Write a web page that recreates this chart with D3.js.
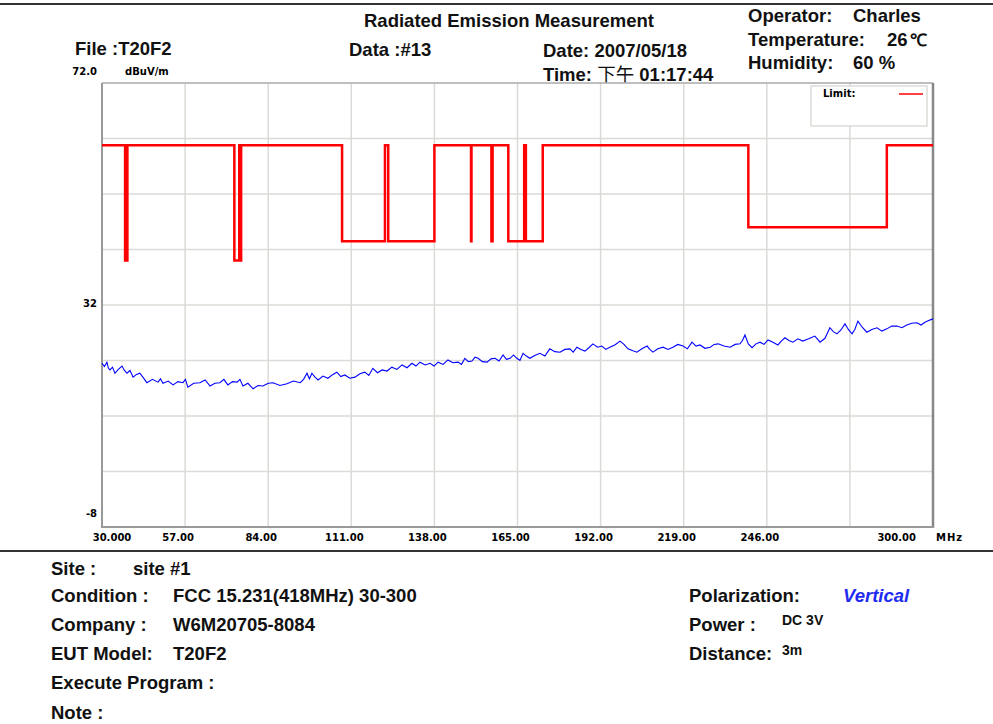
<!DOCTYPE html>
<html lang="en">
<head>
    <meta charset="utf-8">
    <title>Radiated Emission Measurement</title>
    <script type="text/javascript" src="https://d3js.org/d3.v7.min.js"></script>
    <style type="text/css">
        body { margin: 0; overflow: hidden; background: #fff; }
        svg { display: block; }
        .hdr { font-family: "Liberation Sans", Arial, sans-serif; font-weight: bold; fill: #111; }
        .tick { font-family: "DejaVu Sans", sans-serif; font-weight: bold; font-size: 10px; fill: #000; }
    </style>
</head>
<body>
    <script type="text/javascript">
        // axis values
        var freqTicks = [30, 57, 84, 111, 138, 165, 192, 219, 246, 300];
        var freqTickLabels = ["30.000", "57.00", "84.00", "111.00", "138.00", "165.00", "192.00", "219.00", "246.00", "300.00"];
        var freqGrid = [57, 84, 111, 138, 165, 192, 219, 246, 273];
        var levelGrid = [62, 52, 42, 32, 22, 12, 2];
        var levelTickLabels = [[72, "72.0"], [32, "32"], [-8, "-8"]];

        // limit line: general level plus restricted bands (lower limit inside)
        var limitHigh = 60.8;
        var restrictedBands = [[37.5, 38.25], [73, 74.6], [74.8, 75.2], [108, 121.94], [123, 138],
            [149.9, 150.05], [156.52475, 156.52525], [156.7, 156.9], [162.0125, 167.17], [167.72, 173.2], [240, 285]];
        var bandLimits = [[30, 88, 40], [88, 216, 43.5], [216, 960, 46]];

        var traceFreqs = [30.0, 30.8, 31.6, 32.1, 32.6, 33.4, 34.2, 35.3, 36.5, 37.3, 38.1, 39.1, 40.1, 41.2, 42.3, 43.4, 44.6, 46.4, 48.2, 49.0,
            49.8, 51.5, 53.1, 54.7, 56.3, 57.1, 57.9, 59.8, 61.8, 63.5, 65.1, 66.7, 68.3, 69.6, 70.9, 72.4, 73.9, 74.8, 75.8, 77.4,
            79.1, 80.7, 82.3, 84.0, 85.6, 87.8, 90.1, 92.2, 94.4, 95.5, 96.6, 97.4, 98.2, 99.2, 100.2, 101.8, 103.4, 104.8, 106.3, 107.6,
            108.9, 110.5, 112.2, 113.8, 115.4, 116.7, 118.0, 119.5, 121.0, 122.6, 124.2, 125.8, 127.5, 129.1, 130.7, 132.0, 133.3, 135.0, 136.6, 137.9,
            139.2, 140.8, 142.4, 144.0, 145.7, 146.8, 147.9, 149.0, 150.2, 151.2, 152.2, 153.6, 155.1, 156.4, 157.7, 159.0, 160.3, 161.4, 162.6, 163.7,
            164.8, 165.8, 166.8, 167.9, 169.0, 170.6, 172.3, 173.9, 175.5, 177.1, 178.8, 180.4, 182.0, 183.1, 184.3, 185.6, 186.9, 188.2, 189.5, 191.0,
            192.4, 193.7, 195.0, 196.6, 198.3, 199.6, 200.9, 202.3, 203.8, 205.4, 207.1, 208.0, 209.0, 210.6, 212.3, 213.9, 215.5, 217.1, 218.8, 220.2,
            221.7, 223.0, 224.3, 225.9, 227.6, 228.9, 230.2, 232.1, 234.1, 235.7, 237.3, 238.1, 238.9, 240.0, 241.2, 242.5, 243.8, 245.1, 246.4, 248.0,
            249.6, 250.7, 251.9, 253.2, 254.5, 256.1, 257.7, 259.6, 261.6, 262.4, 263.3, 264.9, 266.5, 267.6, 268.8, 270.1, 271.4, 272.5, 273.7, 274.6,
            275.6, 277.0, 278.5, 280.1, 281.8, 283.4, 285.0, 286.6, 288.3, 289.9, 291.5, 293.1, 294.8, 296.1, 297.4, 298.6, 300.0];
        var traceLevels = [21.5, 20.9, 21.7, 20.6, 20.3, 20.8, 19.7, 20.4, 21.0, 20.2, 19.7, 20.2, 19.0, 19.5, 19.7, 18.9, 18.0, 18.6, 18.1, 18.7,
            17.9, 18.3, 17.6, 18.2, 18.0, 18.6, 17.2, 17.9, 18.0, 18.5, 17.4, 17.9, 18.0, 18.6, 17.6, 18.2, 18.1, 18.6, 17.4, 17.9,
            16.9, 17.5, 17.4, 17.9, 18.0, 17.5, 17.8, 18.3, 18.0, 18.6, 19.7, 18.7, 19.7, 19.0, 18.5, 19.2, 18.8, 19.4, 19.9, 19.1,
            19.4, 18.8, 19.0, 19.6, 19.9, 19.3, 20.6, 19.8, 20.3, 20.1, 20.8, 20.4, 21.2, 20.7, 21.5, 21.0, 21.7, 21.2, 21.5, 21.0,
            21.7, 21.3, 22.1, 21.6, 21.7, 21.3, 22.4, 21.8, 21.9, 22.6, 22.4, 21.8, 21.7, 22.3, 22.4, 21.9, 23.0, 22.2, 22.4, 23.0,
            22.4, 22.0, 23.3, 22.8, 22.4, 22.9, 23.3, 22.8, 24.1, 23.6, 23.5, 24.0, 24.1, 23.5, 24.4, 24.0, 23.7, 24.3, 25.0, 24.4,
            24.6, 24.0, 24.4, 24.8, 25.5, 24.9, 24.1, 23.8, 23.5, 24.1, 24.6, 24.0, 23.5, 24.1, 24.4, 24.0, 24.4, 24.9, 24.6, 24.1,
            25.3, 24.6, 24.8, 24.2, 24.4, 24.9, 25.0, 24.6, 24.4, 24.9, 25.0, 25.6, 26.6, 25.0, 24.3, 25.0, 25.3, 24.9, 25.7, 25.3,
            24.8, 25.5, 26.1, 25.6, 25.3, 25.9, 25.5, 25.9, 26.4, 25.9, 25.3, 26.0, 27.9, 27.2, 26.8, 27.5, 28.6, 27.6, 26.8, 27.6,
            29.1, 28.0, 27.1, 27.6, 27.9, 27.3, 27.7, 28.2, 28.2, 27.9, 28.4, 28.7, 28.8, 28.4, 28.9, 29.2, 29.5];

        var width = 993, height = 724;
        var svg = d3.select("body").append("svg")
            .attr("width", width)
            .attr("height", height);

        var x = d3.scaleLinear().domain([30, 300]).range([102, 933]);
        var y = d3.scaleLinear().domain([-8, 72]).range([527, 83]);

        // page rules
        svg.append("line").attr("x1", 0).attr("x2", width).attr("y1", 4).attr("y2", 4)
            .attr("stroke", "#333").attr("stroke-width", 2);
        svg.append("line").attr("x1", 0).attr("x2", width).attr("y1", 551).attr("y2", 551)
            .attr("stroke", "#333").attr("stroke-width", 2);

        // header texts
        var fs = 18.5;
        function txt(s, px, py, size, extra) {
            var t = svg.append("text").attr("class", "hdr").attr("x", px).attr("y", py)
                .attr("font-size", size).text(s);
            if (extra) extra(t);
            return t;
        }
        txt("Radiated Emission Measurement", 364, 27, fs);
        txt("File :T20F2", 75, 55, fs);
        txt("Data :#13", 349, 56, fs);
        txt("Date: 2007/05/18", 543, 57, fs);
        var tm = txt("Time: ", 543, 81, fs);
        tm.append("tspan").attr("font-family", "'Noto Sans CJK TC', sans-serif").attr("font-weight", "normal").text("下午");
        tm.append("tspan").text(" 01:17:44");
        txt("Operator:", 748, 22, fs);
        txt("Charles", 853, 22, fs);
        txt("Temperature:", 748, 46, fs);
        txt("26", 887, 46, fs);
        txt("℃", 910, 46, 17, function(t) { t.attr("font-family", "'Noto Sans CJK TC', sans-serif").attr("font-weight", "normal"); });
        txt("Humidity:", 748, 69, fs);
        txt("60 %", 853, 69, fs);

        // footer texts
        var rows = [575, 602, 631, 660, 689, 719];
        txt("Site :", 51, rows[0], fs);
        txt("site #1", 133, rows[0], fs);
        txt("Condition  :", 51, rows[1], fs);
        txt("FCC 15.231(418MHz) 30-300", 173, rows[1], fs);
        txt("Company :", 51, rows[2], fs);
        txt("W6M20705-8084", 173, rows[2], fs);
        txt("EUT Model:", 51, rows[3], fs);
        txt("T20F2", 173, rows[3], fs);
        txt("Execute Program :", 51, rows[4], fs);
        txt("Note  :", 51, rows[5], fs);
        txt("Polarization:", 689, rows[1], fs);
        txt("Vertical", 843, rows[1], fs, function(t) { t.attr("font-style", "italic").style("fill", "#1f2bf0"); });
        txt("Power :", 689, rows[2], fs);
        txt("DC 3V", 782, rows[2] - 6, 14);
        txt("Distance:", 689, rows[3], fs);
        txt("3m", 782, rows[3] - 5, 14);

        // grid
        var g = svg.append("g");
        g.selectAll(".vg").data(freqGrid).enter().append("line")
            .attr("x1", function(d) { return x(d); }).attr("x2", function(d) { return x(d); })
            .attr("y1", y(72)).attr("y2", y(-8))
            .attr("stroke", "#dcdad6").attr("stroke-width", 1.5);
        g.selectAll(".hg").data(levelGrid).enter().append("line")
            .attr("x1", x(30)).attr("x2", x(300))
            .attr("y1", function(d) { return y(d); }).attr("y2", function(d) { return y(d); })
            .attr("stroke", "#dcdad6").attr("stroke-width", 1.5);

        // frame
        g.append("line").attr("x1", x(30)).attr("x2", x(300)).attr("y1", y(72)).attr("y2", y(72))
            .attr("stroke", "#aaa").attr("stroke-width", 1.5);
        g.append("line").attr("x1", x(30)).attr("x2", x(30)).attr("y1", y(72)).attr("y2", y(-8))
            .attr("stroke", "#999").attr("stroke-width", 2);
        g.append("line").attr("x1", x(300)).attr("x2", x(300)).attr("y1", y(72)).attr("y2", y(-8) + 1)
            .attr("stroke", "#888").attr("stroke-width", 2.5);
        g.append("line").attr("x1", x(30) - 1).attr("x2", x(300) + 1).attr("y1", y(-8)).attr("y2", y(-8))
            .attr("stroke", "#999").attr("stroke-width", 2);

        // tick labels
        svg.selectAll(".xl").data(freqTicks).enter().append("text")
            .attr("class", "tick")
            .attr("x", function(d, i) {
                if (i === 0) return x(d) + 10;
                if (i === freqTicks.length - 1) return x(d) - 17;
                return x(d) - 7;
            })
            .attr("y", 541)
            .attr("text-anchor", function(d, i) { return i === freqTicks.length - 1 ? "end" : "middle"; })
            .text(function(d, i) { return freqTickLabels[i]; });
        svg.append("text").attr("class", "tick").attr("x", x(300) + 3).attr("y", 541).text("MHz")
            .attr("letter-spacing", 1);
        svg.selectAll(".yl").data(levelTickLabels).enter().append("text")
            .attr("class", "tick")
            .attr("x", 97)
            .attr("y", function(d) { return d[0] === 72 ? 75 : (d[0] === -8 ? 517 : y(d[0]) + 2); })
            .attr("text-anchor", "end")
            .attr("font-size", 9.5)
            .text(function(d) { return d[1]; });
        svg.append("text").attr("class", "tick").attr("x", 125).attr("y", 75).attr("font-size", 9).text("dBuV/m");

        // limit step line
        var limitPts = [[30, limitHigh]];
        restrictedBands.forEach(function(b) {
            var lv = bandLimits.filter(function(r) { return b[0] >= r[0] && b[0] < r[1]; })[0][2];
            limitPts.push([b[0], limitHigh], [b[0], lv], [b[1], lv], [b[1], limitHigh]);
        });
        limitPts.push([300, limitHigh]);

        var line = d3.line()
            .x(function(d) { return x(d[0]); })
            .y(function(d) { return y(d[1]); });

        svg.append("path").datum(limitPts)
            .attr("d", line)
            .attr("fill", "none")
            .attr("stroke", "#ff0000")
            .attr("stroke-width", 2.5);

        // trace
        var tracePts = traceFreqs.map(function(f, i) { return [f, traceLevels[i]]; });
        svg.append("path").datum(tracePts)
            .attr("d", line)
            .attr("fill", "none")
            .attr("stroke", "#0000ff")
            .attr("stroke-width", 1.1);

        // legend
        var lg = svg.append("g");
        lg.append("rect").attr("x", 811).attr("y", 86).attr("width", 116).attr("height", 40)
            .attr("fill", "#fff").attr("stroke", "#d4d2ce").attr("stroke-width", 1.2);
        lg.append("text").attr("class", "tick").attr("x", 823).attr("y", 97)
            .attr("font-size", 9).attr("font-weight", "normal").text("Limit:");
        lg.append("line").attr("x1", 899).attr("x2", 923).attr("y1", 94).attr("y2", 94)
            .attr("stroke", "#ff0000").attr("stroke-width", 1.5);
    </script>
</body>
</html>
